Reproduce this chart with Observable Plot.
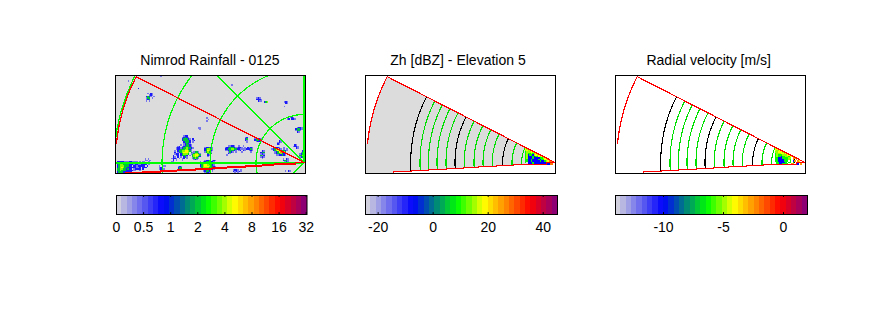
<!DOCTYPE html>
<html><head><meta charset="utf-8">
<script src="https://cdn.jsdelivr.net/npm/d3@7"></script>
<script src="https://cdn.jsdelivr.net/npm/@observablehq/plot@0.6"></script>
<style>
html,body{margin:0;background:#fff}
#chart{position:relative;width:889px;height:333px;background:#fff;overflow:hidden;font-family:"Liberation Sans",sans-serif;color:#000}
#chart>svg,#chart>div{position:absolute}
.ttl{font-size:14px;line-height:16px;text-align:center;white-space:pre;transform:translateX(-50%)}
</style></head><body><div id="chart"></div>
<script>
const titles = ["Nimrod Rainfall - 0125", "Zh [dBZ] - Elevation 5", "Radial velocity [m/s]"];
const rainTickLabels = ["0","0.5","1","2","4","8","16","32"];
const rainTicks = [0,1,2,3,4,5,6,7];
const zhTicks = [-20,0,20,40];
const velTicks = [-10,-5,0];
const barDomains = [[0,7.03],[-24.6,45.2],[-14,2]];
const stopFractions = [0,0.25,0.48,0.62,0.86,1];
const stopColors = ["#dcdcdc","#0000ff","#00ff00","#ffff00","#ff0000","#800080"];
const bandCount = 36;
// wedge geometry
const wedgeTopDeg = 27.1, wedgeLowDeg = -3.2, outerRadius = 188.5, arcEndDeg = 5.8;
const stepX = [-178.3,-161.7,-143.3,-126.7,-108.3,-91.7,-76.7,-58.3,-41.7,-30,-8.3,0];
const stepY = [-10.7,-9.3,-8.3,-7.3,-6.3,-5.3,-4.3,-3.3,-2.3,-1.7,0,0];
const blackRadii = [144.3,100,52.3,11];
const greenRadii = [135,126.6,118,109,90.8,81,72,62.7,43,33.4];
const rainRadii = [48,94,142,190];
// rain cells: [left, top, rows], digits are colour levels
const rainLevels = [0,0.8,1.55,3,3.9,4.4,5.2,6];
const zhLevels = [0,-16,-7,9,15,18.6,28,37];
const velLevels = [0,-12.5,-10,-6.3,-5,-4.1,-2.5,-0.3];
const cell = 1.5;
const rainBlobs = [
[-186.7,1.3,["22222111221111 1 11  1","2334332222221 11 211 ","23443333222122112222 1","2344433322 22122222 2 ","2345433222222112 222  ","3344332322 12222 2    ","3343332222211  1      ","2333222222            "]],
[-132.3,27,["        122     ","       12321    ","       233321 2 ","       233332 12","        23332 1","        12321 ","      1 123321 ","    12 1233321 ","   122123343321","   12233344321","  1 2334455431 ","  2 12345554 31","  122 234443 1"," 2 12 23332 1 "," 21 2 1 231 ","1221 1 12 1"," 2 1   1","11"]],
[-112,10.7,[" 1331 ","134431","345543","345432","13431 "," 121  "]],
[-99.5,15.3,["122321","234431","235421","13431 ","  343 ","  21  ","  1   "]],
[-104,2.3,["   1221 121","1 12331221 ","1233443321 ","2345544321 ","23455543321","1344443321 ","  23443221 ","  12332 1  ","   1321    ","   21      "]],
[-79,17,["  11221  1  1 ","122333211221 1 21 ","2233443322111122121","11233321 12 21 ","  1321 1   1","  21"," 1"]],
[-52.3,24.3,["  12221","  23321","   1221"]],
[-59,25.3,["12","23","21"," 1"]],
[-55,15.3,[" 21","231","121"," 1"]],
[-43.5,12,[" 21","233","121","342","121"," 1 "]],
[-32.3,15.3,[" 12221  1  ","1234521 1 1"," 2345443321","  12356743","  12334321","   1122321"]],
[-20.7,3.7,["1 21","2331"," 121","  1"]],
[-26.3,22,[" 21","121","21"]],
[-8.3,35.3,[" 1221","23321","1331"," 21"]],
[-4.5,12,["  21"," 133","1234","3343","1233"]],
[-10.7,18,[" 21","1221","  21"]],
[-70.7,-7.3,["1221 1","212121"," 1 1"]],
[-19.7,61,["121"," 21","  ","1"]],
[-47.3,64.7,["121 ","2221"," 211"]],
[-39.7,61,["234"]],
[-16.7,45.3,["1 121","12 221"]],
[-158,69.3,[" 1 21","  121","2321 1","133 1","123","1 1"]],
[-144.7,-3,["1 211","123 ","1211"]],
[-125.7,-3.7,["121","233","21"]],
[-19,-8,["1 21"]],
[-97.3,44.7,["1"," 1","1"]],
[-105.7,34.7,["11"," 1"]],
[-72.3,77.7,["1"]],
[-143.3,86.3,["1"]],
[-165.7,74.3,["2"]],
[-175.7,82,["1"]],
[-159,3.7,["1 1","11 1"]]
];
const zhBlobs = [[-30,13.7,["54","4544","344454","34334345","3423324545","342223233545","34222322223345","3322322223233556","332232222232234566","3 222322222222225566","  222322222222 2266"]]];
const velBlobs = [[-30,13.7,["55","5445","445554","34445545","3433344455","343323344355","33222333344 66","33222233343 6 6","332222333 3 26 65"," 3322223 33 3 6265"," 33223333  66 22 6"]]];

const chart = document.getElementById("chart");
const toCells = (blobs, levels) => blobs.flatMap(([x0,y0,rows]) => rows.flatMap((r,j) => [...r].flatMap((c,i) =>
  c===" " ? [] : [{x1:x0+i*cell,x2:x0+(i+1)*cell,y1:y0-(j+1)*cell,y2:y0-j*cell,v:levels[+c]}])));
const rad = d => d*Math.PI/180;
const polar = (r,a) => ({x:-r*Math.cos(rad(a)), y:r*Math.sin(rad(a))});
const arc = (r,a0,a1) => d3.range(0,25).map(k => polar(r,a0+(a1-a0)*k/24));
const stepPts = stepX.map((x,i)=>({x,y:stepY[i]}));
const colorOpt = d => ({type:"linear",domain:stopFractions.map(f=>d[0]+f*(d[1]-d[0])),range:stopColors,interpolate:"rgb"});
const crisp = {shapeRendering:"crispEdges",clip:"frame"};
const lineOf = (pts,stroke,strokeWidth,extra={}) => Plot.line(pts,{x:"x",y:"y",stroke,strokeWidth,...crisp,...extra});
const place = (svg,l,t) => {svg.style.left=l+"px";svg.style.top=t+"px";svg.style.background="transparent";svg.style.maxWidth="none";chart.appendChild(svg);};

function panel(left, xDomain, colorDomain, marks){
  const svg = Plot.plot({width:192,height:100,marginTop:1,marginBottom:1,marginLeft:1,marginRight:1,
    x:{domain:xDomain,axis:null},y:{domain:[-11,87],axis:null},color:colorOpt(colorDomain),marks:[...marks,Plot.frame({stroke:"#000",strokeWidth:1})]});
  place(svg,left-1,74);
}
const cellMark = (blobs,levels) => Plot.rect(toCells(blobs,levels),{x1:"x1",x2:"x2",y1:"y1",y2:"y2",fill:"v",...crisp});
// panel 1
panel(115,[-188.5,1.5],barDomains[0],[
  Plot.frame({fill:"#dcdcdc",stroke:"none"}),
  cellMark(rainBlobs,rainLevels),
  ...rainRadii.map(r=>lineOf(arc(r,-30,92),"#00ff00",1.2)),
  lineOf([{x:0,y:0},{x:-90,y:90}],"#00ff00",1.2),
  lineOf([{x:0,y:0},{x:-14,y:-14}],"#00ff00",1.2),
  lineOf([{x:-190,y:0},{x:0,y:0}],"#00ff00",2),
  lineOf([{x:0,y:0},{x:0,y:90}],"#00ff00",2),
  lineOf([polar(outerRadius,arcEndDeg),...arc(outerRadius,arcEndDeg,wedgeTopDeg),{x:0,y:0}],"#ff0000",1.3),
  lineOf(stepPts,"#ff0000",1.5,{curve:"step-after"})
]);
function wedge(left,colorDomain,fill,blobs,levels){
  const a=arc(outerRadius,wedgeTopDeg,arcEndDeg);
  const poly=[{x:0,y:0},...a,{x:-190,y:19},{x:-190,y:-11},{x:-178.3,y:-11},
    ...stepPts.flatMap((p,i)=>i? [{x:p.x,y:stepPts[i-1].y},p]:[p])];
  const marks=[];
  if(fill) marks.push(Plot.line(poly,{x:"x",y:"y",fill,stroke:"none",clip:"frame"}));
  greenRadii.forEach(r=>marks.push(lineOf(arc(r,wedgeLowDeg,wedgeTopDeg),"#00e000",1.1)));
  blackRadii.forEach(r=>marks.push(lineOf(arc(r,wedgeLowDeg,wedgeTopDeg),"#000",1.1)));
  marks.push(cellMark(blobs,levels));
  marks.push(lineOf([{x:-189.5,y:24},{x:-189.5,y:18}],"#ff0000",1.4));
  marks.push(lineOf([...arc(outerRadius,arcEndDeg,wedgeTopDeg),{x:0,y:0}],"#ff0000",1.2));
  marks.push(lineOf(stepPts,"#ff0000",1.2,{curve:"step-after"}));
  panel(left,[-189.5,0.5],colorDomain,marks);
}
wedge(365,barDomains[1],"#dcdcdc",zhBlobs,zhLevels);
wedge(615,barDomains[2],null,velBlobs,velLevels);

// colour bars
function bar(left,w,domain,ticks,fmt){
  const bands=d3.range(bandCount).map(i=>({x1:domain[0]+i/bandCount*(domain[1]-domain[0]),x2:domain[0]+(i+1)/bandCount*(domain[1]-domain[0]),v:domain[0]+(i+0.5)/bandCount*(domain[1]-domain[0])}));
  const svg=Plot.plot({width:w+40,height:50,marginLeft:20,marginRight:20,marginTop:1,marginBottom:30,
    style:{fontFamily:'"Liberation Sans",sans-serif',fontSize:"14px",color:"#000"},
    x:{domain},y:{domain:[0,1],axis:null},color:colorOpt(domain),
    marks:[
      Plot.rect(bands,{x1:"x1",x2:"x2",y1:0,y2:1,fill:"v",shapeRendering:"crispEdges"}),
      Plot.ruleX(ticks,{y1:0,y2:0.1,stroke:"#000"}),
      Plot.ruleX(ticks,{y1:0.9,y2:1,stroke:"#000"}),
      Plot.frame({stroke:"#000"}),
      Plot.axisX(ticks,{tickSize:0,tickPadding:8,tickFormat:fmt,fontSize:14,fill:"#000",fontFamily:'"Liberation Sans",sans-serif'})
    ]});
  place(svg,left-20,194);
}
bar(116,190.5,barDomains[0],rainTicks,i=>rainTickLabels[i]);
bar(365,192,barDomains[1],zhTicks,String);
bar(615,192,barDomains[2],velTicks,String);
[[210],[458],[708.7]].forEach(([c],i)=>{const d=document.createElement("div");d.className="ttl";d.style.left=c+"px";d.style.top="52px";d.textContent=titles[i];chart.appendChild(d);});
</script></body></html>
